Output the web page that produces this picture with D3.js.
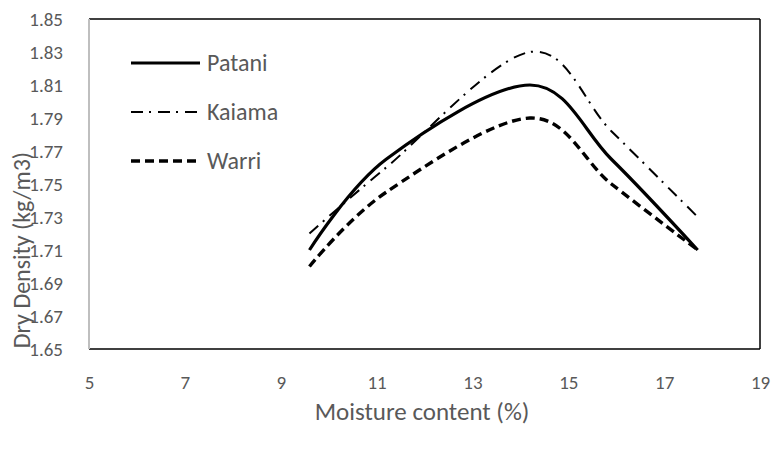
<!DOCTYPE html>
<html>
<head>
<meta charset="utf-8">
<script src="https://cdn.jsdelivr.net/npm/d3@7"></script>
<style>
  html, body { margin: 0; padding: 0; background: #fff; }
  svg { display: block; }
  text { font-family: Carlito, Calibri, Lato, "Open Sans", sans-serif; fill: #595959; }
</style>
</head>
<body>
<svg id="chart" width="771" height="454"></svg>
<script>
// ---- data ----
const moisture = [9.6, 11.2, 14.2, 15.9, 17.7];
const patani   = [1.71, 1.765, 1.81, 1.765, 1.71];
const kaiama   = [1.72, 1.76, 1.83, 1.782, 1.73];
const warri    = [1.70, 1.745, 1.79, 1.75, 1.71];
const seriesNames = ["Patani", "Kaiama", "Warri"];
const xTicks = [5, 7, 9, 11, 13, 15, 17, 19];
const yTicks = [1.65, 1.67, 1.69, 1.71, 1.73, 1.75, 1.77, 1.79, 1.81, 1.83, 1.85];

const svg = d3.select("#chart");
const L = 89, R = 760, T = 19, B = 349;
const x = d3.scaleLinear().domain([5, 19]).range([L, R]);
const y = d3.scaleLinear().domain([1.65, 1.85]).range([B, T]);

const styles = {
  Patani: { width: 3.2, dash: null },
  Kaiama: { width: 2, dash: "12,6,2,7" },
  Warri:  { width: 3.4, dash: "9,5" }
};
const seriesData = { Patani: patani, Kaiama: kaiama, Warri: warri };

// frame
svg.append("line").attr("x1", L).attr("x2", R).attr("y1", T).attr("y2", T)
  .attr("stroke", "#000").attr("stroke-width", 1.5);
svg.append("line").attr("x1", L).attr("x2", R).attr("y1", B).attr("y2", B)
  .attr("stroke", "#000").attr("stroke-width", 1.5);
svg.append("line").attr("x1", R).attr("x2", R).attr("y1", T).attr("y2", B)
  .attr("stroke", "#000").attr("stroke-width", 1.5);
svg.append("line").attr("x1", L).attr("x2", L).attr("y1", T).attr("y2", B)
  .attr("stroke", "#bfbfbf").attr("stroke-width", 2);

// axes (labels only)
const yAxis = d3.axisLeft(y).tickValues(yTicks).tickFormat(d3.format(".2f")).tickSize(0).tickPadding(26);
const gy = svg.append("g").attr("transform", `translate(${L},0)`).call(yAxis);
gy.select(".domain").remove();
gy.selectAll("text").style("font-size", "19px").attr("fill", "#595959");

const xAxis = d3.axisBottom(x).tickValues(xTicks).tickFormat(d3.format("d")).tickSize(0).tickPadding(27);
const gx = svg.append("g").attr("transform", `translate(0,${B})`).call(xAxis);
gx.select(".domain").remove();
gx.selectAll("text").style("font-size", "19px").attr("fill", "#595959");

// axis titles
svg.append("text").attr("x", 422).attr("y", 420)
  .attr("text-anchor", "middle").style("font-size", "25px").text("Moisture content (%)");
svg.append("text").attr("transform", "translate(30,250) rotate(-90)")
  .attr("text-anchor", "middle").style("font-size", "24px").text("Dry Density (kg/m3)");

// lines
const line = d3.line().x(d => x(d[0])).y(d => y(d[1])).curve(d3.curveCardinal.tension(0));
seriesNames.forEach(name => {
  const pts = moisture.map((m, i) => [m, seriesData[name][i]]);
  svg.append("path").datum(pts).attr("d", line)
    .attr("fill", "none").attr("stroke", "#000")
    .attr("stroke-width", styles[name].width)
    .attr("stroke-dasharray", styles[name].dash);
});

// legend
const legY = [63, 112, 161];
seriesNames.forEach((name, i) => {
  svg.append("line").attr("x1", 131).attr("x2", 200).attr("y1", legY[i]).attr("y2", legY[i])
    .attr("stroke", "#000").attr("stroke-width", styles[name].width)
    .attr("stroke-dasharray", styles[name].dash);
  svg.append("text").attr("x", 207).attr("y", legY[i] + 8)
    .style("font-size", "24px").text(name);
});
</script>
</body>
</html>
